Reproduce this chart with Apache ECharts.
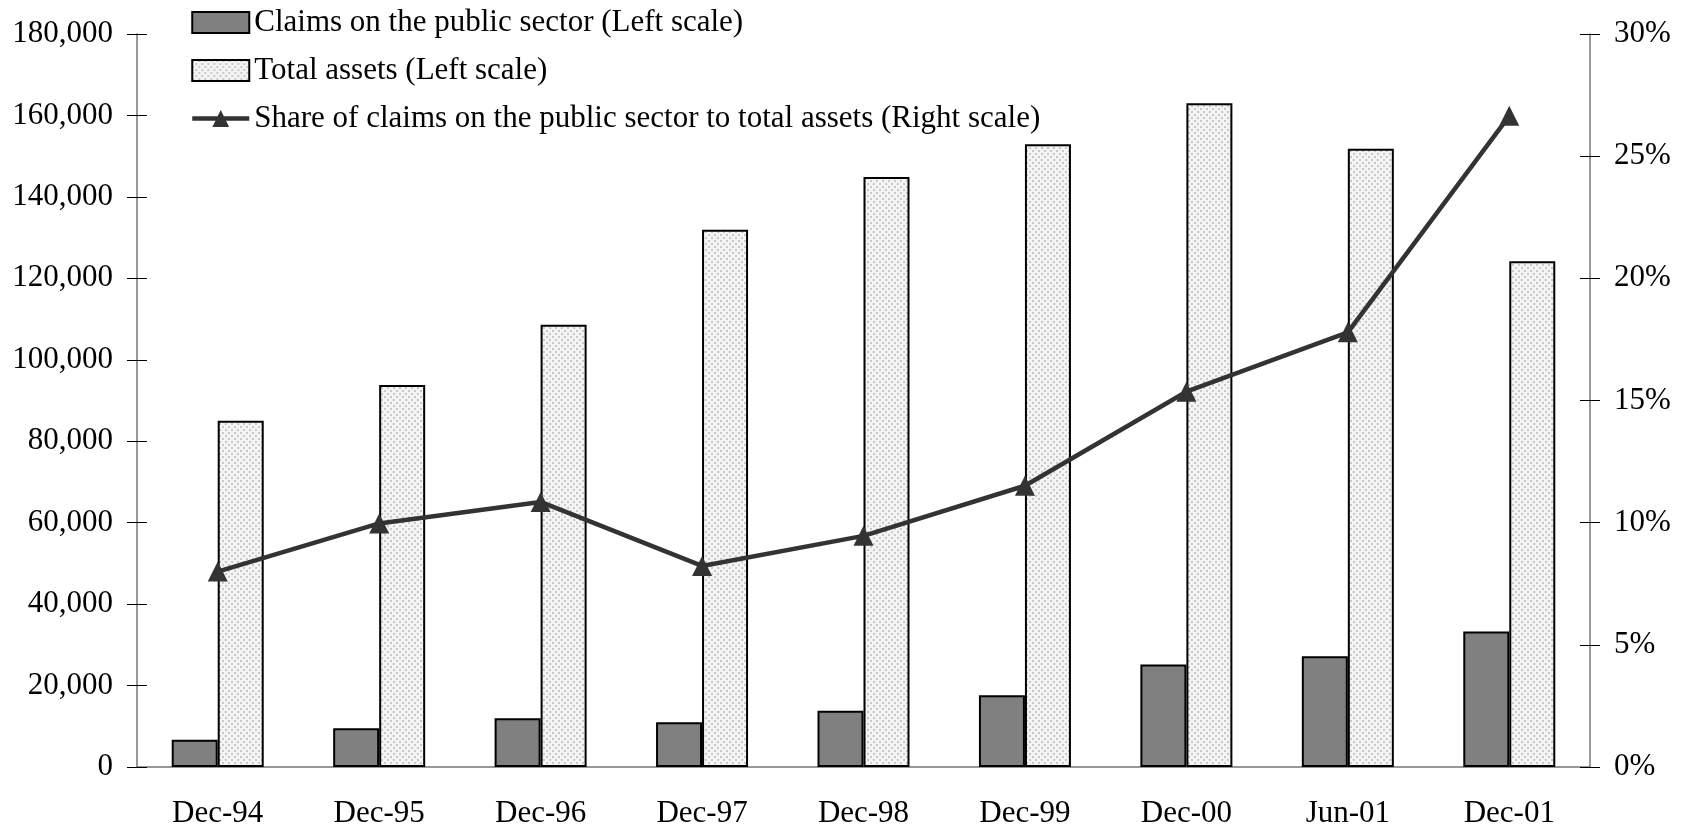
<!DOCTYPE html>
<html>
<head>
<meta charset="utf-8">
<script src="https://cdn.jsdelivr.net/npm/echarts@6/dist/echarts.min.js"></script>
<style>
  html, body { margin: 0; padding: 0; background: #fff; }
  #main { width: 1691px; height: 832px; }
</style>
</head>
<body>
<div id="main"></div>
<script>
var categories = ['Dec-94', 'Dec-95', 'Dec-96', 'Dec-97', 'Dec-98', 'Dec-99', 'Dec-00', 'Jun-01', 'Dec-01'];
var claims = [6700, 9500, 12000, 11000, 13800, 17600, 25200, 27200, 33300];
var totalAssets = [85000, 93800, 108600, 131900, 144900, 152900, 163000, 151800, 124200];
var sharePct = [8.0, 9.97, 10.85, 8.23, 9.46, 11.51, 15.36, 17.79, 26.65];

var FONT = 'Liberation Serif';

// dotted fill like the Excel pattern
function dotPattern() {
  var c = document.createElement('canvas');
  c.width = 6; c.height = 6;
  var g = c.getContext('2d');
  g.fillStyle = '#f4f4f4';
  g.fillRect(0, 0, 6, 6);
  g.fillStyle = '#c9c9c9';
  g.fillRect(0, 0, 2, 2);
  g.fillRect(3, 3, 2, 2);
  return c;
}

var myChart = echarts.init(document.getElementById('main'));

var tickStyle = { color: '#000', width: 1 };
var axisLineStyle = { color: '#777', width: 1.5 };

var option = {
  backgroundColor: '#fff',
  animation: false,
  textStyle: { fontFamily: FONT, color: '#000' },
  grid: { left: 137, right: 101, top: 34, bottom: 65 },
  legend: {
    orient: 'vertical',
    left: 185,
    top: 2,
    itemWidth: 57,
    itemHeight: 21,
    itemGap: 17,
    lineStyle: { width: 'inherit' },
    textStyle: { fontFamily: FONT, fontSize: 31, color: '#000' },
    data: [
      { name: 'Claims on the public sector (Left scale)', icon: 'rect' },
      { name: 'Total assets (Left scale)', icon: 'rect' },
      { name: 'Share of claims on the public sector to total assets (Right scale)' }
    ]
  },
  xAxis: [{
    type: 'category',
    position: 'bottom',
    data: categories,
    axisLine: { lineStyle: axisLineStyle },
    axisTick: { inside: false, length: 10, lineStyle: tickStyle },
    axisLabel: { margin: 31, fontFamily: FONT, fontSize: 31, color: '#000' }
  }, {
    // inner half of the crossing ticks
    type: 'category',
    position: 'bottom',
    data: categories,
    axisLine: { show: false },
    axisTick: { inside: true, length: 10, lineStyle: tickStyle },
    axisLabel: { show: false }
  }],
  yAxis: [{
    type: 'value',
    position: 'left',
    min: 0, max: 180000, interval: 20000,
    splitLine: { show: false },
    axisLine: { show: true, lineStyle: axisLineStyle },
    axisTick: { show: true, inside: false, length: 10, lineStyle: tickStyle },
    axisLabel: {
      margin: 24, fontFamily: FONT, fontSize: 31, color: '#000',
      formatter: function (v) { return v.toLocaleString('en-US'); }
    }
  }, {
    type: 'value',
    position: 'right',
    min: 0, max: 30, interval: 5,
    splitLine: { show: false },
    axisLine: { show: true, lineStyle: axisLineStyle },
    axisTick: { show: true, inside: false, length: 10, lineStyle: tickStyle },
    axisLabel: {
      margin: 24, fontFamily: FONT, fontSize: 31, color: '#000',
      formatter: '{value}%'
    }
  }, {
    type: 'value',
    position: 'left',
    min: 0, max: 180000, interval: 20000,
    splitLine: { show: false },
    axisLine: { show: false },
    axisTick: { show: true, inside: true, length: 10, lineStyle: tickStyle },
    axisLabel: { show: false }
  }, {
    type: 'value',
    position: 'right',
    min: 0, max: 30, interval: 5,
    splitLine: { show: false },
    axisLine: { show: false },
    axisTick: { show: true, inside: true, length: 10, lineStyle: tickStyle },
    axisLabel: { show: false }
  }],
  series: [{
    name: 'Claims on the public sector (Left scale)',
    type: 'bar',
    yAxisIndex: 0,
    barWidth: 46,
    barGap: '0%',
    itemStyle: { color: '#808080', borderColor: '#000', borderWidth: 2 },
    data: claims
  }, {
    name: 'Total assets (Left scale)',
    type: 'bar',
    yAxisIndex: 0,
    barWidth: 46,
    barGap: '0%',
    itemStyle: {
      color: { image: dotPattern(), repeat: 'repeat' },
      borderColor: '#000', borderWidth: 2
    },
    data: totalAssets
  }, {
    name: 'Share of claims on the public sector to total assets (Right scale)',
    type: 'line',
    yAxisIndex: 1,
    symbol: 'triangle',
    symbolSize: 20,
    lineStyle: { color: '#333', width: 4.5 },
    itemStyle: { color: '#333' },
    data: sharePct
  }]
};

myChart.setOption(option);
</script>
</body>
</html>
